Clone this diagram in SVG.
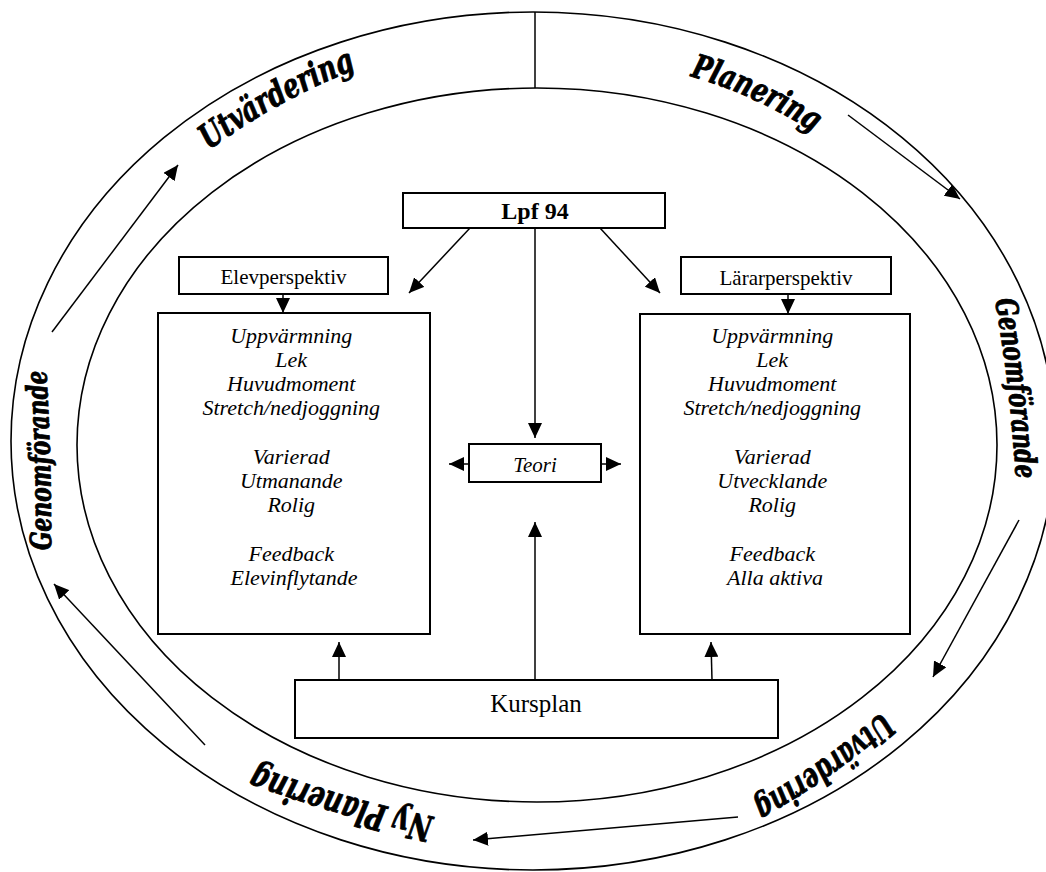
<svg xmlns="http://www.w3.org/2000/svg" width="1046" height="872" viewBox="0 0 1046 872">
<defs>
<style>
.ln{fill:none;stroke:#000;stroke-width:1.5}
.ell{fill:none;stroke:#000;stroke-width:1.6}
.box{fill:#fff;stroke:#000;stroke-width:2}
.t{font-family:"Liberation Serif","Times New Roman",serif;fill:#000}
.i{font-style:italic;font-size:22px}
.lab{font-family:"DejaVu Serif Condensed","DejaVu Serif",serif;font-weight:bold;font-style:italic;fill:#000;stroke:#000;stroke-width:0.9;stroke-linejoin:round}
</style>
<marker id="ah" viewBox="0 0 15 14" refX="15" refY="7" markerWidth="15" markerHeight="14" markerUnits="userSpaceOnUse" orient="auto"><path d="M0,0 L15,7 L0,14 z" fill="#000"/></marker>
<path id="p1" d="M 209 150 Q 280.5 97.5 362 67"/>
<path id="p2" d="M 690 76 Q 753.5 94 815 133"/>
<path id="p3" d="M 995 300 Q 1011 391 1016 482"/>
<path id="p4" d="M 51 550 Q 51.5 459 46 368"/>
<path id="p5" d="M 882 712 Q 818.5 767 750 804"/>
<path id="p6" d="M 434 817 Q 342 798.5 254 765"/>
</defs>
<rect width="1046" height="872" fill="#fff"/>

<g id="cycle">
<ellipse class="ell" cx="533" cy="441" rx="522" ry="429"/>
<ellipse class="ell" cx="537" cy="445" rx="460" ry="357"/>
<line class="ln" x1="535" y1="12" x2="535" y2="88"/>
</g>

<g id="labels">
<text class="lab" font-size="34"><textPath href="#p1" textLength="168" lengthAdjust="spacingAndGlyphs">Utvärdering</textPath></text>
<text class="lab" font-size="33"><textPath href="#p2" textLength="136" lengthAdjust="spacingAndGlyphs">Planering</textPath></text>
<text class="lab" font-size="30"><textPath href="#p3" textLength="180" lengthAdjust="spacingAndGlyphs">Genomförande</textPath></text>
<text class="lab" font-size="29"><textPath href="#p4" textLength="180" lengthAdjust="spacingAndGlyphs">Genomförande</textPath></text>
<text class="lab" font-size="34"><textPath href="#p5" textLength="158" lengthAdjust="spacingAndGlyphs">Utvärdering</textPath></text>
<text class="lab" font-size="36"><textPath href="#p6" textLength="186" lengthAdjust="spacingAndGlyphs">Ny Planering</textPath></text>
</g>

<g id="connectors">
<line class="ln" x1="52" y1="332" x2="178" y2="165" marker-end="url(#ah)"/>
<line class="ln" x1="848" y1="115" x2="960" y2="199" marker-end="url(#ah)"/>
<line class="ln" x1="1019" y1="520" x2="933" y2="677" marker-end="url(#ah)"/>
<line class="ln" x1="738" y1="817" x2="473" y2="840" marker-end="url(#ah)"/>
<line class="ln" x1="205" y1="745" x2="54" y2="584" marker-end="url(#ah)"/>
<line class="ln" x1="470" y1="228" x2="409" y2="293" marker-end="url(#ah)"/>
<line class="ln" x1="600" y1="228" x2="660" y2="293" marker-end="url(#ah)"/>
<line class="ln" x1="535" y1="228" x2="535" y2="438" marker-end="url(#ah)"/>
<line class="ln" x1="283" y1="294" x2="283" y2="313" marker-end="url(#ah)"/>
<line class="ln" x1="788" y1="294" x2="788" y2="314" marker-end="url(#ah)"/>
<line class="ln" x1="469" y1="464" x2="449" y2="464" marker-end="url(#ah)"/>
<line class="ln" x1="601" y1="464" x2="621" y2="464" marker-end="url(#ah)"/>
<line class="ln" x1="339" y1="680" x2="339" y2="642" marker-end="url(#ah)"/>
<line class="ln" x1="712" y1="680" x2="711" y2="642" marker-end="url(#ah)"/>
<line class="ln" x1="535" y1="680" x2="535" y2="522" marker-end="url(#ah)"/>
</g>

<g id="lpf">
<rect class="box" x="403" y="193" width="262" height="35"/>
<text class="t" x="535" y="219" font-size="24" font-weight="bold" text-anchor="middle">Lpf 94</text>
</g>

<g id="elevperspektiv">
<rect class="box" x="179" y="257" width="209" height="37"/>
<text class="t" x="283.5" y="284" font-size="21" text-anchor="middle">Elevperspektiv</text>
</g>

<g id="lararperspektiv">
<rect class="box" x="681" y="257" width="210" height="37"/>
<text class="t" x="786" y="285" font-size="21" text-anchor="middle">Lärarperspektiv</text>
</g>

<g id="elevbox">
<rect class="box" x="158" y="313" width="272" height="321"/>
<text class="t i" text-anchor="middle">
<tspan x="294" y="343">Uppvärmning</tspan>
<tspan x="294" y="367">Lek</tspan>
<tspan x="294" y="391">Huvudmoment</tspan>
<tspan x="294" y="415">Stretch/nedjoggning</tspan>
<tspan x="294" y="464">Varierad</tspan>
<tspan x="294" y="488">Utmanande</tspan>
<tspan x="294" y="512">Rolig</tspan>
<tspan x="294" y="561">Feedback</tspan>
<tspan x="294" y="585">Elevinflytande</tspan>
</text>
</g>

<g id="lararbox">
<rect class="box" x="640" y="314" width="270" height="320"/>
<text class="t i" text-anchor="middle">
<tspan x="775" y="343">Uppvärmning</tspan>
<tspan x="775" y="367">Lek</tspan>
<tspan x="775" y="391">Huvudmoment</tspan>
<tspan x="775" y="415">Stretch/nedjoggning</tspan>
<tspan x="775" y="464">Varierad</tspan>
<tspan x="775" y="488">Utvecklande</tspan>
<tspan x="775" y="512">Rolig</tspan>
<tspan x="775" y="561">Feedback</tspan>
<tspan x="775" y="585">Alla aktiva</tspan>
</text>
</g>

<g id="teori">
<rect class="box" x="469" y="444" width="132" height="38"/>
<text class="t" x="535" y="472" font-size="21" font-style="italic" text-anchor="middle">Teori</text>
</g>

<g id="kursplan">
<rect class="box" x="295" y="680" width="483" height="58"/>
<text class="t" x="536" y="712" font-size="25" text-anchor="middle">Kursplan</text>
</g>
</svg>
